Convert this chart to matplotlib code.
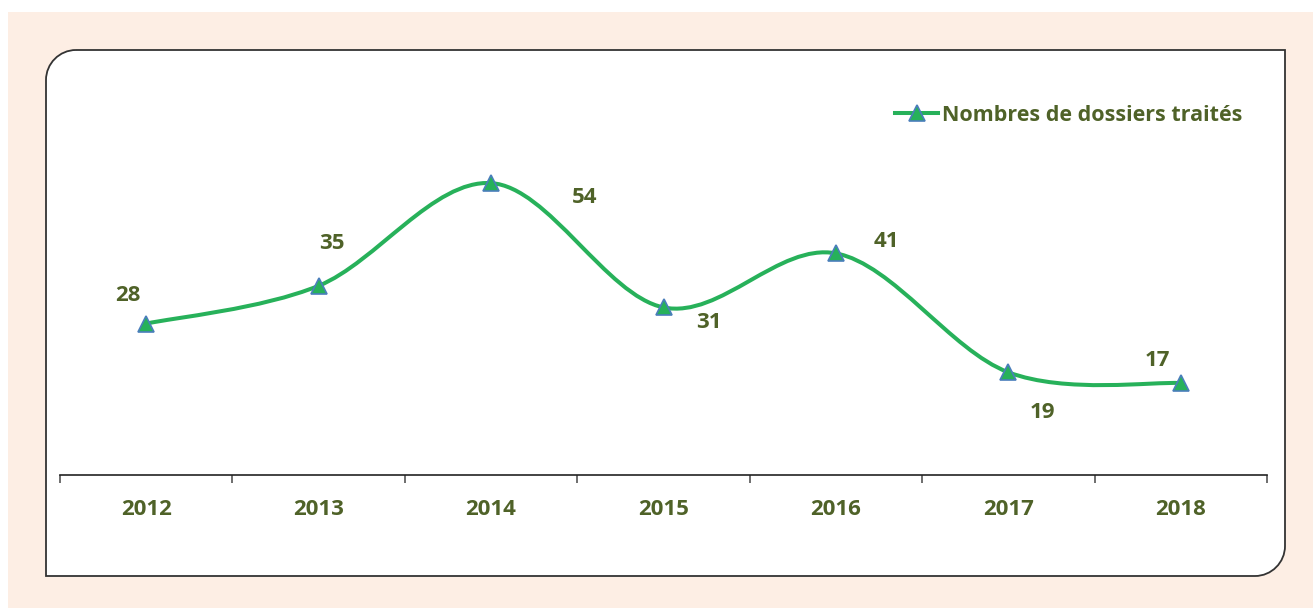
import matplotlib.pyplot as plt
from matplotlib.path import Path
from matplotlib.patches import PathPatch, Rectangle
from matplotlib.lines import Line2D

years = ["2012", "2013", "2014", "2015", "2016", "2017", "2018"]
dossiers = [28, 35, 54, 31, 41, 19, 17]
series_name = "Nombres de dossiers traités"
# label offsets in pixels (dx, dy) relative to each point
label_offsets = [(-18, 28), (13, 42), (94, -14), (45, -15), (50, 12), (34, -40), (-23, 23)]

green = "#27B15A"
olive = "#4F6228"
peach = "#FDEEE4"
font = "Open Sans"

W, H = 1313, 608
fig = plt.figure(figsize=(W / 100, H / 100), dpi=100)

# background layer in pixel coordinates
bg = fig.add_axes([0, 0, 1, 1])
bg.set_xlim(0, W)
bg.set_ylim(H, 0)
bg.axis("off")
bg.add_patch(Rectangle((8, 12), W, H, facecolor=peach, edgecolor="none"))

x0, y0, x1, y1, r = 46, 50, 1285, 576, 30
k = 0.55 * r
verts = [(x0 + r, y0), (x1, y0), (x1, y1 - r),
         (x1, y1 - r + k), (x1 - r + k, y1), (x1 - r, y1),
         (x0, y1), (x0, y0 + r),
         (x0, y0 + r - k), (x0 + r - k, y0), (x0 + r, y0)]
codes = [Path.MOVETO, Path.LINETO, Path.LINETO,
         Path.CURVE4, Path.CURVE4, Path.CURVE4,
         Path.LINETO, Path.LINETO,
         Path.CURVE4, Path.CURVE4, Path.CURVE4]
bg.add_patch(PathPatch(Path(verts, codes), facecolor="white", edgecolor="#333333", lw=1.3))

# chart axes
ax = fig.add_axes([60 / W, 1 - 475 / H, 1207 / W, 378.4 / H])
ax.set_facecolor("none")
n = len(dossiers)
xs = list(range(n))
ax.set_xlim(-0.5, n - 0.5)
ax.set_ylim(0, 70)

# smoothed line (Catmull-Rom style bezier through the data points)
pts = list(zip(xs, dossiers))
pverts = [pts[0]]
pcodes = [Path.MOVETO]
for i in range(n - 1):
    p0 = pts[i - 1] if i > 0 else pts[i]
    p1 = pts[i]
    p2 = pts[i + 1]
    p3 = pts[i + 2] if i + 2 < n else pts[i + 1]
    c1 = (p1[0] + (p2[0] - p0[0]) / 6, p1[1] + (p2[1] - p0[1]) / 6)
    c2 = (p2[0] - (p3[0] - p1[0]) / 6, p2[1] - (p3[1] - p1[1]) / 6)
    pverts += [c1, c2, p2]
    pcodes += [Path.CURVE4] * 3
ax.add_patch(PathPatch(Path(pverts, pcodes), facecolor="none", edgecolor=green, lw=2.9,
                       capstyle="round", joinstyle="round"))
ax.plot(xs, dossiers, ls="none", marker="^", ms=11.5, mfc=green, mec="#4A7EBB", mew=1.2, zorder=5)

for x, v, (dx, dy) in zip(xs, dossiers, label_offsets):
    ax.annotate(str(v), (x, v), xytext=(dx * 0.72, dy * 0.72), textcoords="offset points",
                ha="center", va="center", color=olive, fontsize=16,
                fontweight="bold", family=font)

for s in ["top", "left", "right"]:
    ax.spines[s].set_visible(False)
ax.spines["bottom"].set_color("#222222")
ax.spines["bottom"].set_linewidth(1.2)
ax.set_yticks([])
ax.set_xticks([i - 0.5 for i in range(n + 1)])
ax.set_xticklabels([])
ax.tick_params(axis="x", which="major", length=6, width=1.2, color="#555555")
ax.set_xticks(xs, minor=True)
ax.set_xticklabels(years, minor=True)
ax.tick_params(axis="x", which="minor", length=0, pad=17)
for lab in ax.get_xticklabels(minor=True):
    lab.set_fontsize(16)
    lab.set_fontweight("bold")
    lab.set_color(olive)
    lab.set_family(font)

handle = Line2D([], [], color=green, lw=2.9, marker="^", ms=11, mfc=green, mec="#4A7EBB", mew=1.2)
leg = ax.legend([handle], [series_name], loc="center right", bbox_to_anchor=(0.996, 0.951),
                frameon=False, handlelength=2.0, handletextpad=0.2,
                prop={"family": font, "weight": "bold", "size": 15.5})
for t in leg.get_texts():
    t.set_color(olive)

fig.savefig("out.png", dpi=100)
